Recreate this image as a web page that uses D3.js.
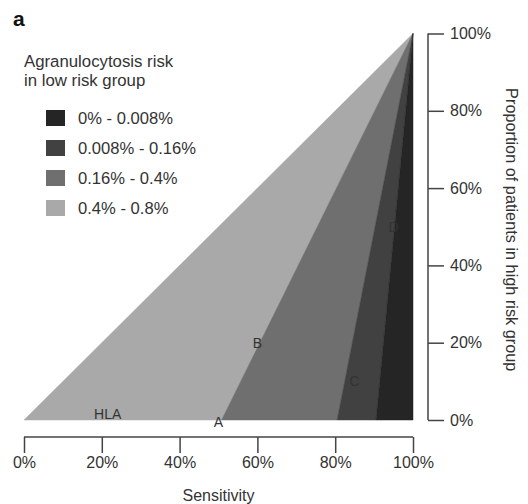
<!DOCTYPE html>
<html>
<head>
<meta charset="utf-8">
<script src="https://cdn.jsdelivr.net/npm/d3@7"></script>
<style>
  body { margin: 0; background: #fff; }
  svg text { font-family: "Liberation Sans", Arial, sans-serif; fill: #333; }
</style>
</head>
<body>
<svg id="chart" width="528" height="504"></svg>
<script>
// cut points on the sensitivity axis (at 0% high risk), all lines meet at (100%,100%)
var cuts = [0, 50.8, 80.5, 90.5, 100];
var riskLabels = ["0.4% - 0.8%", "0.16% - 0.4%", "0.008% - 0.16%", "0% - 0.008%"];
var fills = ["#a9a9a9", "#6f6f6f", "#414141", "#252525"];
var tickValues = [0, 20, 40, 60, 80, 100];
var pointNames = ["HLA", "A", "B", "C", "D"];
var pointSens = [21.5, 50, 60, 85, 95];
var pointHigh = [1.5, -0.5, 20, 10, 50];

var svg = d3.select("#chart");

var x = d3.scaleLinear().domain([0, 100]).range([24, 413]);
var y = d3.scaleLinear().domain([0, 100]).range([420, 33.5]);

// wedges
var regions = d3.range(cuts.length - 1).map(function(i) {
  return { pts: [[cuts[i], 0], [cuts[i + 1], 0], [100, 100]], fill: fills[i] };
});
var line = d3.line().x(function(d) { return x(d[0]); }).y(function(d) { return y(d[1]); });

svg.selectAll(".wedge")
  .data(regions)
  .enter().append("path")
  .attr("class", "wedge")
  .attr("d", function(d) { return line(d.pts) + "Z"; })
  .attr("fill", function(d) { return d.fill; })
  .attr("stroke", function(d) { return d.fill; })
  .attr("stroke-width", 0.5);

// point labels
svg.selectAll(".pt")
  .data(pointNames)
  .enter().append("text")
  .attr("class", "pt")
  .attr("x", function(d, i) { return x(pointSens[i]); })
  .attr("y", function(d, i) { return y(pointHigh[i]); })
  .attr("dy", "0.35em")
  .attr("text-anchor", "middle")
  .style("font-size", "14px")
  .style("fill", "#333")
  .text(function(d) { return d; });

// x axis
var xAxis = svg.append("g")
  .attr("transform", "translate(0,437)")
  .call(d3.axisBottom(x).tickValues(tickValues).tickSize(16).tickPadding(4)
    .tickFormat(function(d) { return d + "%"; }));
xAxis.select(".domain").attr("d", "M" + x(0) + ",0H" + x(100)).attr("stroke", "#444").attr("stroke-width", 1.5);
xAxis.selectAll(".tick line").attr("stroke", "#444").attr("stroke-width", 1.5);
xAxis.selectAll(".tick text").style("font-size", "16px").style("fill", "#333")
  .style("font-family", "Liberation Sans, Arial, sans-serif");

// y axis
var yAxis = svg.append("g")
  .attr("transform", "translate(428,0)")
  .call(d3.axisRight(y).tickValues(tickValues).tickSize(16).tickPadding(6)
    .tickFormat(function(d) { return d + "%"; }));
yAxis.select(".domain").attr("d", "M0," + y(0) + "V" + y(100)).attr("stroke", "#444").attr("stroke-width", 1.5);
yAxis.selectAll(".tick line").attr("stroke", "#444").attr("stroke-width", 1.5);
yAxis.selectAll(".tick text").style("font-size", "16px").style("fill", "#333")
  .style("font-family", "Liberation Sans, Arial, sans-serif");

// axis titles
svg.append("text")
  .attr("x", (x(0) + x(100)) / 2)
  .attr("y", 501)
  .attr("text-anchor", "middle")
  .style("font-size", "16px")
  .text("Sensitivity");

svg.append("text")
  .attr("transform", "translate(506," + (y(50) + 3) + ") rotate(90)")
  .attr("text-anchor", "middle")
  .style("font-size", "16.3px")
  .text("Proportion of patients in high risk group");

// panel letter
svg.append("text")
  .attr("x", 13)
  .attr("y", 26)
  .style("font-size", "21px")
  .style("font-weight", "bold")
  .style("fill", "#111")
  .text("a");

// legend
svg.append("text").attr("x", 24).attr("y", 67).style("font-size", "16.8px").text("Agranulocytosis risk");
svg.append("text").attr("x", 24).attr("y", 86).style("font-size", "16.8px").text("in low risk group");

var legendOrder = [3, 2, 1, 0];
var leg = svg.selectAll(".leg")
  .data(legendOrder)
  .enter().append("g")
  .attr("class", "leg")
  .attr("transform", function(d, i) { return "translate(46," + (110 + i * 30) + ")"; });
leg.append("rect")
  .attr("width", 19)
  .attr("height", 16)
  .attr("fill", function(d) { return fills[d]; });
leg.append("text")
  .attr("x", 32)
  .attr("y", 13.5)
  .style("font-size", "16.6px")
  .text(function(d) { return riskLabels[d]; });
</script>
</body>
</html>
